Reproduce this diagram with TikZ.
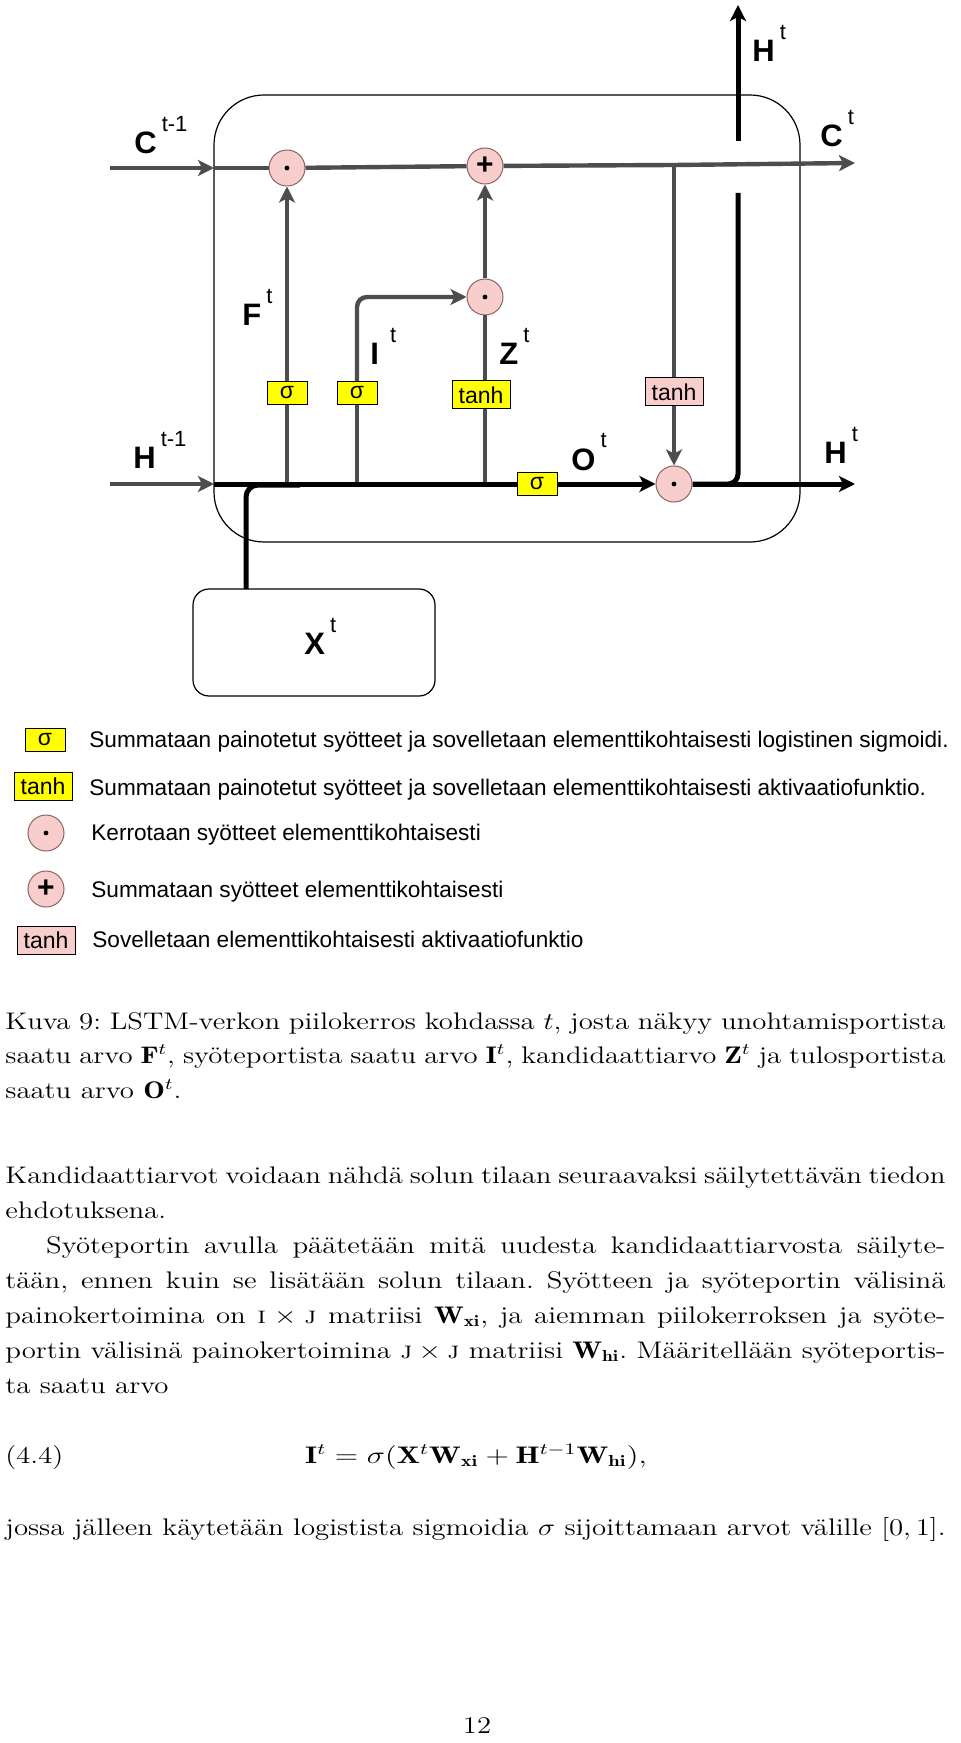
\documentclass[tikz,border=0pt]{standalone}
\usepackage{fontspec}
\usepackage{graphicx}
\newfontfamily\arial{Liberation Sans}
\usetikzlibrary{arrows.meta}
\definecolor{wirec}{RGB}{77,77,77}
\definecolor{opfill}{RGB}{248,206,204}
\definecolor{opedge}{RGB}{140,100,100}
\definecolor{gatec}{RGB}{255,255,0}
\newcommand{\vlab}[2]{{\fontsize{15.5}{15.5}\selectfont\bfseries #1}\hspace{2.5pt}\raisebox{11pt}{\fontsize{11}{11}\selectfont #2}}
\newcommand{\bodyfont}{\fontsize{12}{17.5}\selectfont\frenchspacing}
\newcommand{\wide}[1]{\scalebox{1.2}[1]{#1}}
\begin{document}
\begin{tikzpicture}[x=0.5pt, y=-0.5pt,
    wire/.style={draw=wirec, line width=2.2pt},
    thinwire/.style={draw=wirec, line width=1.7pt},
    bus/.style={draw=black, line width=2.5pt},
    tip/.style={-{Stealth[length=8pt,width=8pt,inset=2pt]}},
    op/.style={circle, draw=opedge, fill=opfill, line width=0.5pt, minimum size=18pt, inner sep=0pt},
    mul/.style={op, path picture={\fill[black] (path picture bounding box.center) circle (1.2pt);}},
    add/.style={op, font=\arial\bfseries\fontsize{15}{15}\selectfont},
    gatebox/.style={draw, line width=0.5pt, fill=gatec, inner sep=0pt, minimum height=11.5pt, font=\arial\fontsize{11.5}{11.5}\selectfont},
    sigbox/.style={gatebox, minimum width=20pt},
    tanhbox/.style={gatebox, minimum width=29pt, minimum height=14pt},
    actbox/.style={tanhbox, fill=opfill},
    sym/.style={anchor=base west, inner sep=0pt, font=\arial},
    legend/.style={anchor=base west, inner sep=0pt, font=\arial\fontsize{11.3}{11.3}\selectfont},
    body/.style={anchor=base west, inner sep=0pt, font=\bodyfont},
  ]
  \useasboundingbox[fill=white] (0,0) rectangle (960,1743);

  % solu ja syote
  \node[draw, line width=0.6pt, rounded corners=25pt, minimum width=293pt, minimum height=223.5pt, inner sep=0pt] (cell) at (507,318.5) {};
  \node[draw, line width=0.6pt, rounded corners=8pt, minimum width=121pt, minimum height=53.5pt, inner sep=0pt] (xbox) at (314,642.5) {};

  % operaatiot
  \node[mul] (mulF) at (287,168) {};
  \node[add] (addC) at (485,166) {+};
  \node[mul] (mulI) at (485,297) {};
  \node[mul] (mulO) at (674,484) {};
  \node[sigbox] (sigF) at (287,393) {σ};
  \node[sigbox] (sigI) at (357,393) {σ};
  \node[tanhbox] (tanhZ) at (481,395) {tanh};
  \node[sigbox] (sigO) at (537,484) {σ};
  \node[actbox] (tanhC) at (674,392) {tanh};

  % pisteet
  \coordinate (cin) at (110,168);
  \coordinate (cL) at (214,168);
  \coordinate (tapC) at (674,165);
  \coordinate (cout) at (855,163);
  \coordinate (hin) at (110,484);
  \coordinate (hL) at (214,484);
  \coordinate (hout) at (855,484);
  \coordinate (fB) at (287,484);
  \coordinate (iB) at (357,484);
  \coordinate (zB) at (485,484);
  \coordinate (gapB) at (738,193);
  \coordinate (gapT) at (738,141);
  \coordinate (htop) at (738,5);
  \coordinate (xUp) at (246,589);
  \coordinate (xJ) at (300,485);

  % solun tila
  \draw[wire,tip] (cin) -- (cL);
  \draw[wire] (cL) -- (mulF);
  \draw[wire] (mulF) -- (addC);
  \draw[wire] (addC) -- (tapC);
  \draw[wire,tip] (tapC) -- (cout);

  % portit
  \draw[wire] (fB) -- (sigF);
  \draw[wire,tip] (sigF) -- (mulF);
  \draw[wire] (iB) -- (sigI);
  \draw[wire,tip,rounded corners=5pt] (sigI) |- (mulI);
  \draw[thinwire] (zB) -- (zB |- tanhZ.south);
  \draw[thinwire] (zB |- tanhZ.north) -- (mulI);
  \draw[wire,tip] (mulI) -- (addC);
  \draw[wire] (tapC) -- (tanhC);
  \draw[wire,tip] (tanhC) -- (mulO);

  % piilotila
  \draw[wire,tip] (hin) -- (hL);
  \draw[bus] (hL) -- (sigO);
  \draw[bus,tip] (sigO) -- (mulO);
  \draw[bus,tip] (mulO) -- (hout);
  \draw[bus,rounded corners=5pt] (mulO) -| (gapB);
  \draw[bus,tip] (gapT) -- (htop);
  \draw[bus,rounded corners=6pt] (xUp) |- (xJ);

  % nimet
  \node[sym] (lCprev) at (134,154) {\vlab{C}{t-1}};
  \node[sym] (lCnext) at (820,147) {\vlab{C}{t}};
  \node[sym] (lHtop) at (752,62) {\vlab{H}{t}};
  \node[sym] (lF) at (242,326) {\vlab{F}{t}};
  \node[sym] (lI) at (370,365) {\vlab{I}{\hspace{3pt}t}};
  \node[sym] (lZ) at (499,365) {\vlab{Z}{t}};
  \node[sym] (lHprev) at (133,468) {\vlab{H}{t-1}};
  \node[sym] (lO) at (571,470) {\vlab{O}{t}};
  \node[sym] (lHnext) at (824,464) {\vlab{H}{t}};
  \node[sym] (lX) at (304,654) {\vlab{X}{t}};

  % selitteet
  \node[sigbox] (kSig) at (45,740) {σ};
  \node[tanhbox] (kTanh) at (43,786) {tanh};
  \node[mul] (kMul) at (46,833) {};
  \node[add] (kAdd) at (46,889) {+};
  \node[actbox] (kAct) at (46,940) {tanh};
  \node[legend] (tSig) at (89,747) {Summataan painotetut syötteet ja sovelletaan elementtikohtaisesti logistinen sigmoidi.};
  \node[legend] (tTanh) at (89,795) {Summataan painotetut syötteet ja sovelletaan elementtikohtaisesti aktivaatiofunktio.};
  \node[legend] (tMul) at (91,840) {Kerrotaan syötteet elementtikohtaisesti};
  \node[legend] (tAdd) at (91,897) {Summataan syötteet elementtikohtaisesti};
  \node[legend] (tAct) at (92,947) {Sovelletaan elementtikohtaisesti aktivaatiofunktio};

  % teksti
  \node[body, font=\fontsize{12}{17.25}\selectfont\frenchspacing] (caption) at (5,1029) {\wide{\parbox[t]{391.7pt}{\hyphenpenalty=10000
    Kuva 9: LSTM-verkon piilokerros kohdassa $t$, josta näkyy unohtamisportista\linebreak
    saatu arvo $\mathbf{F}^t$, syöteportista saatu arvo $\mathbf{I}^t$, kandidaattiarvo $\mathbf{Z}^t$ ja tulosportista\linebreak
    saatu arvo $\mathbf{O}^t$.}}};
  \node[body] (para) at (5,1183) {\wide{\parbox[t]{391.7pt}{\hyphenpenalty=10000 \setlength{\parindent}{17pt}%
    \noindent Kandidaattiarvot voidaan nähdä solun tilaan seuraavaksi säilytettävän tiedon\linebreak
    ehdotuksena.

    Syöteportin avulla päätetään mitä uudesta kandidaattiarvosta säilyte-\linebreak
    tään, ennen kuin se lisätään solun tilaan. Syötteen ja syöteportin välisinä\linebreak
    painokertoimina on \textsc{i}${}\times{}$\textsc{j} matriisi $\mathbf{W}_{\mathbf{xi}}$, ja aiemman piilokerroksen ja syöte-\linebreak
    portin välisinä painokertoimina \textsc{j}${}\times{}$\textsc{j} matriisi $\mathbf{W}_{\mathbf{hi}}$. Määritellään syöteportis-\linebreak
    ta saatu arvo}}};
  \node[body] (eqno) at (5,1463) {\wide{(4.4)}};
  \node[body, anchor=base] (eq) at (476,1463) {\scalebox{1.28}[1]{$\mathbf{I}^t = \sigma(\mathbf{X}^t\mathbf{W}_{\mathbf{xi}} + \mathbf{H}^{t-1}\mathbf{W}_{\mathbf{hi}}),$}};
  \node[body] (last) at (5,1535) {\wide{jossa jälleen käytetään logistista sigmoidia $\sigma$ sijoittamaan arvot välille $[0,1]$.}};
  \node[body, anchor=base] (pageno) at (477,1733) {\wide{12}};
\end{tikzpicture}
\end{document}
